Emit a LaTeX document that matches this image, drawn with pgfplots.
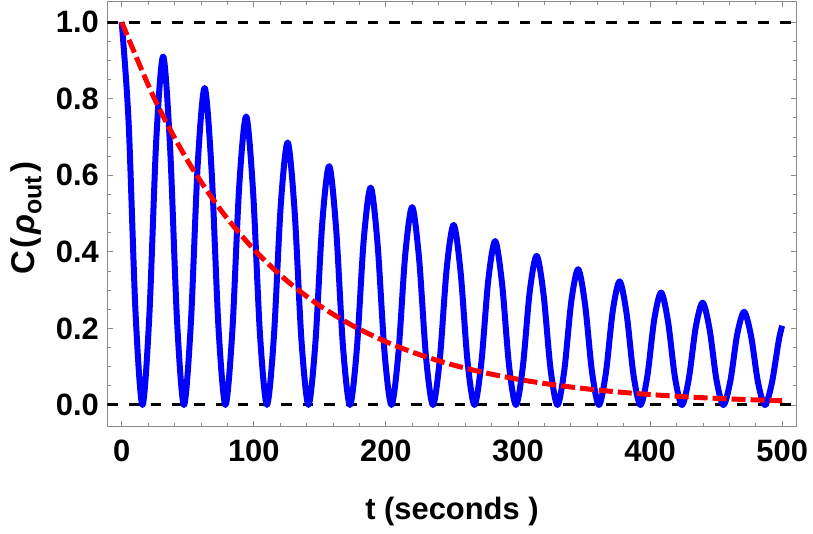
\documentclass[border=0pt]{standalone}
\usepackage{fontspec}
\setmainfont{Liberation Sans}
\usepackage{pgfplots}
\pgfplotsset{compat=1.18}
\definecolor{framegray}{RGB}{140,140,140}
\begin{document}
\begin{tikzpicture}
\path[use as bounding box] (-107.3bp,-107.3bp) rectangle (705.7bp,426.7bp);
\begin{axis}[
  scale only axis, width=689.4bp, height=425.2bp,
  at={(0,0)}, anchor=south west,
  xmin=-10.9, xmax=511, ymin=-0.0567, ymax=1.054,
  xtick={0,100,200,300,400,500}, minor x tick num=4,
  ytick={0,0.2,0.4,0.6,0.8,1.0}, minor y tick num=3,
  tick align=inside,
  major tick length=6bp, minor tick length=3.5bp,
  axis line style={framegray, line width=1bp},
  every tick/.style={framegray, line width=0.8bp},
  /pgf/number format/assume math mode=true,
  tick label style={font=\fontsize{31}{37}\selectfont\bfseries, text=black, inner sep=0pt},
  xticklabel style={anchor=north, yshift=-13bp},
  yticklabel style={anchor=east, xshift=-8.3bp, /pgf/number format/fixed, /pgf/number format/fixed zerofill, /pgf/number format/precision=1},
  xlabel={t (seconds )},
  ylabel={C\hspace{0.06em}(\hspace{0.1em}\textit{ρ}\raisebox{-0.22em}{\fontsize{25}{28}\selectfont out}\hspace{0.1em})},
  label style={font=\fontsize{31}{37}\selectfont\bfseries},
  xlabel style={at={(axis description cs:0.5,-0.2171)}, anchor=base},
  ylabel style={at={(axis description cs:-0.1063,0.491)}, anchor=base, font=\fontsize{33}{39}\selectfont\bfseries},
]
\addplot[black, line width=3bp, dash pattern=on 10.7bp off 11bp] coordinates {(-10.9,1) (511,1)};
\addplot[black, line width=3bp, dash pattern=on 10.7bp off 11bp] coordinates {(-10.9,0) (511,0)};
\addplot[blue, line width=6bp, smooth, line join=round] coordinates {
(0,1) (5.24,0.7383) (10.47,0.2423) (15.71,0) (20.94,0.2348) (26.18,0.6933)
(31.42,0.9101) (36.65,0.6719) (41.89,0.2205) (47.12,0) (52.36,0.2137) (57.60,0.6310)
(62.83,0.8282) (68.07,0.6115) (73.30,0.2006) (78.54,0) (83.78,0.1944) (89.01,0.5742)
(94.25,0.7537) (99.48,0.5565) (104.72,0.1826) (109.96,0) (115.19,0.1770) (120.43,0.5226)
(125.66,0.6859) (130.90,0.5064) (136.14,0.1662) (141.37,0) (146.61,0.1610) (151.84,0.4756)
(157.08,0.6242) (162.32,0.4609) (167.55,0.1512) (172.79,0) (178.02,0.1466) (183.26,0.4328)
(188.50,0.5681) (193.73,0.4194) (198.97,0.1376) (204.20,0) (209.44,0.1334) (214.68,0.3939)
(219.91,0.5170) (225.15,0.3817) (230.38,0.1253) (235.62,0) (240.86,0.1214) (246.09,0.3585)
(251.33,0.4705) (256.56,0.3474) (261.80,0.1140) (267.04,0) (272.27,0.1105) (277.51,0.3262)
(282.74,0.4282) (287.98,0.3161) (293.22,0.1037) (298.45,0) (303.69,0.1005) (308.92,0.2969)
(314.16,0.3897) (319.40,0.2877) (324.63,0.0944) (329.87,0) (335.10,0.0915) (340.34,0.2702)
(345.58,0.3546) (350.81,0.2618) (356.05,0.0859) (361.28,0) (366.52,0.0833) (371.76,0.2459)
(376.99,0.3227) (382.23,0.2383) (387.46,0.0782) (392.70,0) (397.94,0.0758) (403.17,0.2238)
(408.41,0.2937) (413.64,0.2168) (418.88,0.0712) (424.12,0) (429.35,0.0690) (434.59,0.2036)
(439.82,0.2673) (445.06,0.1973) (450.30,0.0648) (455.53,0) (460.77,0.0628) (466.00,0.1853)
(471.24,0.2432) (476.48,0.1796) (481.71,0.0589) (486.95,0) (492.18,0.0571) (497.42,0.1687)
(500,0.207)
};
\addplot[red, line width=5bp, smooth, dash pattern=on 14bp off 5bp] coordinates {
(0,1) (25,0.7985) (50,0.6376) (75,0.5092) (100,0.4066) (125,0.3247) (150,0.2592)
(175,0.2070) (200,0.1653) (225,0.1320) (250,0.1054) (275,0.0842) (300,0.0672)
(325,0.0537) (350,0.0429) (375,0.0342) (400,0.0273) (425,0.0218) (450,0.0174)
(475,0.0139) (500,0.0111)
};
\end{axis}
\end{tikzpicture}
\end{document}
